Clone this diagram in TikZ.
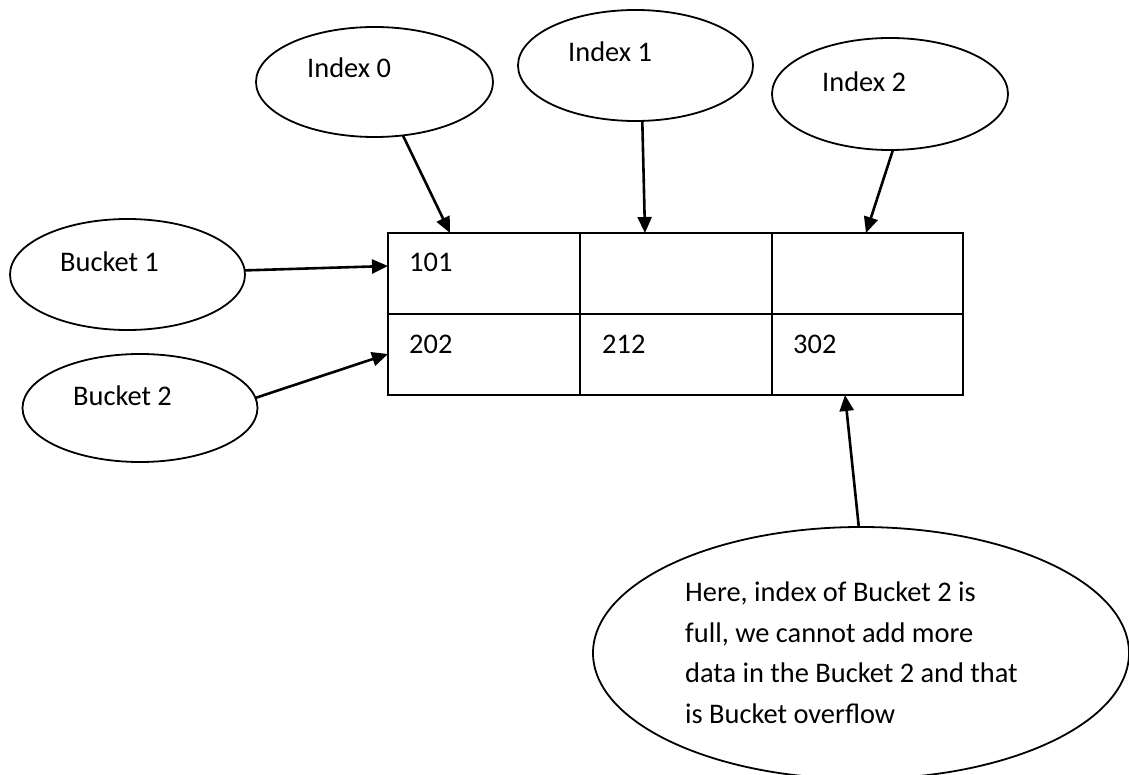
\documentclass[tikz,border=0pt]{standalone}
\usepackage{fontspec}
\setmainfont{Carlito}
\usetikzlibrary{shapes.geometric,arrows.meta}
\begin{document}
\begin{tikzpicture}[x=1pt,y=-1pt,
  oval/.style={ellipse,draw,line width=1.8pt,inner sep=0pt,outer sep=0pt},
  cell/.style={rectangle,draw,line width=2.3pt,inner sep=0pt,outer sep=0pt,anchor=north west,minimum height=81pt},
  lbl/.style={anchor=base west,inner sep=0pt,font=\fontsize{28.4}{40.5}\selectfont},
  conn/.style={line width=2.6pt,-{Triangle[length=16pt,width=14pt]}}]
\useasboundingbox (0,0) rectangle (1129,775);
% table cells
\node[cell,minimum width=192pt] (c11) at (388,233) {};
\node[cell,minimum width=192pt] (c12) at (580,233) {};
\node[cell,minimum width=191pt] (c13) at (772,233) {};
\node[cell,minimum width=192pt] (c21) at (388,314) {};
\node[cell,minimum width=192pt] (c22) at (580,314) {};
\node[cell,minimum width=191pt] (c23) at (772,314) {};
\node[lbl] (v101) at (409,272) {101};
\node[lbl] (v202) at (409,353) {202};
\node[lbl] (v212) at (602,353) {212};
\node[lbl] (v302) at (793,353) {302};
% ellipses
\node[oval,minimum width=237pt,minimum height=110pt] (i0) at (374.5,82) {};
\node[oval,minimum width=235pt,minimum height=111pt] (i1) at (635.5,65.5) {};
\node[oval,minimum width=236pt,minimum height=112pt] (i2) at (890,94) {};
\node[oval,minimum width=235pt,minimum height=111pt] (b1) at (127.5,274.5) {};
\node[oval,minimum width=235pt,minimum height=108pt] (b2) at (140,408) {};
\node[oval,minimum width=536pt,minimum height=252pt] (ov) at (861,653) {};
\node[lbl] (ti0) at (307,78) {Index 0};
\node[lbl] (ti1) at (568,62) {Index 1};
\node[lbl] (ti2) at (822,92) {Index 2};
\node[lbl] (tb1) at (60,272) {Bucket 1};
\node[lbl] (tb2) at (73,405) {Bucket 2};
\node[lbl,align=left] (tov) at (685,723) {Here, index of Bucket 2 is\\full, we cannot add more\\data in the Bucket 2 and that\\is Bucket overflow};
% connectors
\draw[conn] (i0.-62) -- ([xshift=62pt]c11.north west);
\draw[conn] (i1.-83.3) -- ([xshift=65pt]c12.north west);
\draw[conn] (i2.-87) -- ([xshift=94pt]c13.north west);
\draw[conn] (b1.2.7) -- ([yshift=-33pt]c11.north west);
\draw[conn] (b2.5.9) -- ([yshift=-40pt]c21.north west);
\draw[conn] (ov.91.6) -- ([xshift=73pt]c23.south west);
\end{tikzpicture}
\end{document}
